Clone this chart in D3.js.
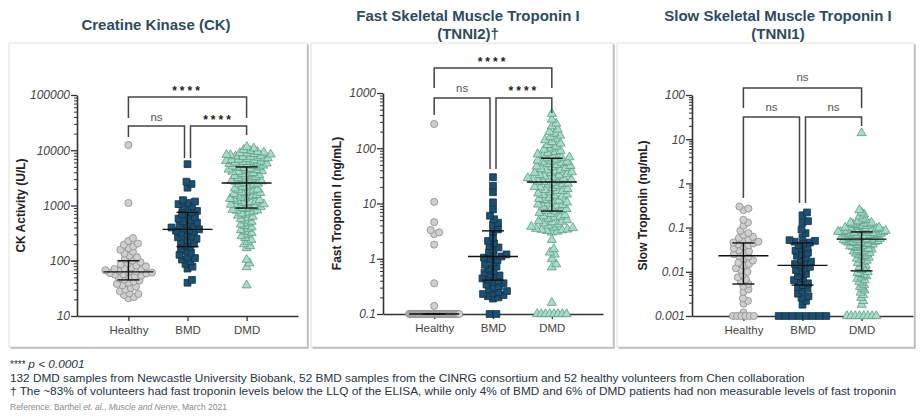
<!DOCTYPE html>
<html>
<head>
<meta charset="utf-8">
<script src="https://cdn.jsdelivr.net/npm/d3@7"></script>
<style>
  body { margin: 0; background: #fff; font-family: Arial, "Liberation Sans", sans-serif; }
</style>
</head>
<body>
<div id="chart"></div>
<script>
// ---- data ----
const groups = ['Healthy', 'BMD', 'DMD'];

// Creatine kinase, U/L
const ckHealthy = [12400, 1110, 257, 228, 205, 195, 182, 170, 158, 146, 135, 124, 116, 108, 101, 95, 90, 86, 82, 79,
  76, 73, 71, 69, 67, 66, 64, 63, 61, 60, 59, 57, 56, 54, 52, 50, 48, 46, 44, 42, 40, 38, 36, 34, 32, 30, 28, 26, 25, 24, 22, 21];
const ckBMD = [5600, 2700, 2450, 2100, 1250, 1180, 1120, 1060, 980, 920, 860, 800, 750, 700, 660, 620, 580, 550, 520, 490,
  460, 440, 420, 400, 385, 370, 360, 350, 335, 320, 300, 280, 265, 250, 235, 220, 205, 190, 178, 165, 152, 140, 128, 118,
  112, 105, 98, 88, 78, 72, 45, 40];
const ckDMD = [11500, 10800, 10200, 9800, 9400, 9100, 8800, 8600, 8400, 8200, 8000, 7800, 7600, 7400, 7200, 7000, 6800,
  6600, 6450, 6300, 6150, 6000, 5850, 5700, 5550, 5400, 5250, 5100, 4950, 4800, 4650, 4500, 4350, 4200, 4050, 3900, 3750,
  3600, 3450, 3300, 3150, 3000, 2900, 2800, 2700, 2600, 2500, 2400, 2300, 2200, 2120, 2040, 1960, 1880, 1800, 1740, 1680,
  1620, 1560, 1500, 1450, 1400, 1350, 1300, 1260, 1220, 1180, 1140, 1100, 1060, 1020, 990, 960, 930, 900, 870, 840, 810,
  780, 750, 720, 690, 660, 630, 600, 570, 540, 510, 480, 455, 430, 405, 380, 360, 340, 320, 300, 280, 260, 240, 220, 200,
  185, 170, 104, 90, 77, 36, 8900, 8300, 7700, 7100, 6700, 6200, 5800, 5300, 4900, 4400, 4100, 3700, 3400, 3100, 2750,
  2450, 1900, 1700, 1520, 1320, 1160, 1040, 940, 820];
const ckStats = [[45, 63, 100], [180, 370, 750], [900, 2550, 5000]]; // q1, median, q3
const ckTicks = [10, 100, 1000, 10000, 100000];
const ckTickLabels = ['10', '100', '1000', '10000', '100000'];
const ckSig = ['****', 'ns', '****'];

// Fast skeletal troponin I, ng/mL (0.1 = below LLQ)
const fastHealthy = [275, 10.7, 4.6, 3.3, 3.0, 2.8, 1.8, 0.36, 0.14, 0.1, 0.1, 0.1, 0.1, 0.1, 0.1, 0.1, 0.1, 0.1, 0.1,
  0.1, 0.1, 0.1, 0.1, 0.1, 0.1, 0.1, 0.1, 0.1, 0.1, 0.1, 0.1, 0.1, 0.1, 0.1, 0.1, 0.1, 0.1, 0.1, 0.1, 0.1, 0.1, 0.1, 0.1,
  0.1, 0.1, 0.1, 0.1, 0.1, 0.1, 0.1, 0.1, 0.1];
const fastBMD = [30, 21, 16, 10.5, 7.8, 6, 5.2, 4.5, 4.2, 3.4, 3.1, 2.4, 2.1, 1.9, 1.7, 1.6, 1.45, 1.3, 1.2, 1.15, 1.1,
  1.05, 1.0, 0.95, 0.85, 0.78, 0.72, 0.66, 0.6, 0.56, 0.52, 0.5, 0.47, 0.44, 0.42, 0.4, 0.38, 0.36, 0.34, 0.32, 0.3, 0.28,
  0.26, 0.25, 0.24, 0.23, 0.22, 0.21, 0.2, 0.19, 0.1, 0.1];
const fastDMD = [420, 330, 280, 250, 220, 200, 185, 170, 160, 150, 140, 130, 122, 115, 108, 100, 95, 90, 86, 82, 78, 75,
  72, 69, 66, 63, 60, 58, 56, 54, 52, 50, 48, 46, 44, 42, 40, 38.5, 37, 35.5, 34, 32.5, 31, 30, 29, 28, 27, 26, 25, 24.5,
  24, 23, 22, 21, 20, 19.2, 18.4, 17.6, 16.8, 16, 15.3, 14.6, 14, 13.4, 12.8, 12.2, 11.6, 11, 10.5, 10, 9.6, 9.2, 8.8,
  8.4, 8, 7.6, 7.2, 6.8, 6.5, 6.2, 5.9, 5.6, 5.3, 5, 4.8, 4.6, 4.4, 4.2, 4, 3.8, 3.6, 3.5, 3.4, 3.3, 3.2, 3.1, 3, 2.2,
  1.5, 1.3, 1.2, 1.0, 0.8, 0.7, 0.16, 0.1, 0.1, 0.1, 0.1, 0.1, 0.1, 0.1, 0.1, 68, 57, 47, 41, 36, 33, 28.5, 26.5, 22.5,
  19.6, 17, 14.3, 11.3, 9.4, 7.4, 5.8, 4.7, 3.7, 3.35];
const fastStats = [[0.1, 0.1, 0.1], [0.41, 1.1, 3.2], [7.3, 24.5, 66]];
const fastTicks = [0.1, 1, 10, 100, 1000];
const fastTickLabels = ['0.1', '1', '10', '100', '1000'];
const fastSig = ['****', 'ns', '****'];

// Slow skeletal troponin I, ng/mL (0.001 = below LLQ)
const slowHealthy = [0.30, 0.27, 0.25, 0.15, 0.13, 0.11, 0.085, 0.075, 0.068, 0.062, 0.058, 0.054, 0.050, 0.048, 0.046,
  0.044, 0.042, 0.040, 0.037, 0.034, 0.031, 0.029, 0.027, 0.025, 0.023, 0.022, 0.020, 0.018, 0.016, 0.015, 0.014, 0.012,
  0.011, 0.010, 0.0085, 0.0075, 0.0068, 0.006, 0.0053, 0.0047, 0.004, 0.0035, 0.0025, 0.0022, 0.0019, 0.0012, 0.001,
  0.001, 0.001, 0.001, 0.001, 0.001];
const slowBMD = [0.22, 0.19, 0.14, 0.13, 0.09, 0.075, 0.06, 0.052, 0.050, 0.048, 0.046, 0.044, 0.040, 0.036, 0.033,
  0.030, 0.027, 0.025, 0.023, 0.021, 0.019, 0.017, 0.016, 0.015, 0.014, 0.013, 0.012, 0.011, 0.010, 0.009, 0.008, 0.0072,
  0.0065, 0.006, 0.0055, 0.005, 0.0045, 0.0042, 0.0038, 0.0032, 0.0028, 0.0026, 0.0022, 0.0018, 0.001, 0.001, 0.001,
  0.001, 0.001, 0.001, 0.001, 0.001];
const slowDMD = [13.8, 0.25, 0.22, 0.2, 0.18, 0.16, 0.15, 0.14, 0.13, 0.125, 0.12, 0.115, 0.11, 0.105, 0.1, 0.097, 0.094,
  0.091, 0.088, 0.085, 0.083, 0.081, 0.079, 0.077, 0.075, 0.073, 0.071, 0.069, 0.067, 0.065, 0.063, 0.061, 0.059, 0.057,
  0.055, 0.054, 0.053, 0.052, 0.051, 0.050, 0.049, 0.048, 0.047, 0.046, 0.045, 0.044, 0.043, 0.042, 0.041, 0.040, 0.039,
  0.038, 0.037, 0.036, 0.035, 0.034, 0.033, 0.032, 0.031, 0.030, 0.029, 0.028, 0.027, 0.026, 0.025, 0.024, 0.023, 0.022,
  0.021, 0.020, 0.019, 0.018, 0.017, 0.016, 0.015, 0.014, 0.013, 0.012, 0.011, 0.010, 0.0095, 0.009, 0.0085, 0.008,
  0.0075, 0.007, 0.0065, 0.006, 0.0055, 0.005, 0.0046, 0.0042, 0.0038, 0.0034, 0.003, 0.0026, 0.0022, 0.0018, 0.001,
  0.001, 0.001, 0.001, 0.001, 0.001, 0.001, 0.001, 0.14, 0.13, 0.12, 0.11, 0.1, 0.1, 0.095, 0.09, 0.09, 0.085, 0.085,
  0.08, 0.08, 0.078, 0.076, 0.074, 0.072, 0.07, 0.068, 0.066, 0.064, 0.06, 0.058, 0.056, 0.053, 0.048];
const slowStats = [[0.0053, 0.023, 0.045], [0.005, 0.014, 0.045], [0.0105, 0.055, 0.08]];
const slowTicks = [0.001, 0.01, 0.1, 1, 10, 100];
const slowTickLabels = ['0.001', '0.01', '0.1', '1', '10', '100'];
const slowSig = ['ns', 'ns', 'ns'];

const comparisons = [['Healthy', 'DMD'], ['Healthy', 'BMD'], ['BMD', 'DMD']];

const footnotes = [
  '132 DMD samples from Newcastle University Biobank, 52 BMD samples from the CINRG consortium and 52 healthy volunteers from Chen collaboration',
  '\u2020 The ~83% of volunteers had fast troponin levels below the LLQ of the ELISA, while only 4% of BMD and 6% of DMD patients had non measurable levels of fast troponin'
];

// ---- layout ----
const W = 920, H = 419;
const titleColor = '#2f4b5c';
const axisColor = '#333';
const font = 'Arial, "Liberation Sans", sans-serif';

const panels = [
  { title: ['Creatine Kinase (CK)'], yTitle: 'CK Activity (U/L)',
    data: [ckHealthy, ckBMD, ckDMD], stats: ckStats, ticks: ckTicks, tickLabels: ckTickLabels, sig: ckSig,
    card: [9, 43, 298, 304], left: 77, right: 298, top: 95, bottom: 316,
    titleX: 156, titleY: [30], yTitleX: 21,
    brackets: [{ y: 97, drops: [118, 118], cy: 88 }, { y: 126, drops: [137, 158], cy: 117 }, { y: 126, drops: [158, 135], cy: 117 }] },
  { title: ['Fast Skeletal Muscle Troponin I', '(TNNI2)\u2020'], yTitle: 'Fast Troponin I (ng/mL)',
    data: [fastHealthy, fastBMD, fastDMD], stats: fastStats, ticks: fastTicks, tickLabels: fastTickLabels, sig: fastSig,
    card: [311, 43, 302, 304], left: 383, right: 603, top: 93, bottom: 314,
    titleX: 468, titleY: [21, 39], yTitleX: 337,
    brackets: [{ y: 68, drops: [88, 88], cy: 59 }, { y: 98, drops: [115, 169], cy: 88 }, { y: 98, drops: [169, 113], cy: 88 }] },
  { title: ['Slow Skeletal Muscle Troponin I', '(TNNI1)'], yTitle: 'Slow Troponin (ng/mL)',
    data: [slowHealthy, slowBMD, slowDMD], stats: slowStats, ticks: slowTicks, tickLabels: slowTickLabels, sig: slowSig,
    card: [617, 43, 297, 304], left: 692, right: 913, top: 95, bottom: 316,
    titleX: 778, titleY: [21, 39], yTitleX: 643,
    brackets: [{ y: 88, drops: [108, 108], cy: 77 }, { y: 117, drops: [198, 203], cy: 107 }, { y: 117, drops: [203, 126], cy: 107 }] }
];

// floorGap: spacing of the below-LLQ row
const markers = [
  { type: d3.symbolCircle, size: 40, fill: '#cfcfcf', stroke: '#8a8a8a', floorGap: 4.2 },
  { type: d3.symbolSquare, size: 46, fill: '#1e4f6f', stroke: '#0e3249', floorGap: 6.8 },
  { type: d3.symbolTriangle, size: 36, fill: '#a8dcc7', stroke: '#5a9c86', floorGap: 4.2 }
];

const svg = d3.select('#chart').append('svg')
  .attr('width', W).attr('height', H)
  .style('font-family', font);

// simple beeswarm: spread points sideways, squeeze into maxHalf, floor values in one squeezed row
function swarm(values, y, floorVal, diam, maxHalf, floorGap, floorW) {
  const pts = values.map(v => ({ v, y: y(Math.max(v, floorVal)) }));
  const low = pts.filter(p => p.v <= floorVal);
  const rest = pts.filter(p => p.v > floorVal).sort((a, b) => b.y - a.y);
  const placed = [];
  rest.forEach(p => {
    let off = 0;
    for (let k = 0; k < 600; k++) {
      const o = (k % 2 ? 1 : -1) * Math.ceil(k / 2) * 0.5;
      if (placed.every(q => (q.x - o) ** 2 + (q.y - p.y) ** 2 >= diam * diam)) { off = o; break; }
    }
    p.x = off;
    placed.push(p);
  });
  const widest = d3.max(rest, p => Math.abs(p.x)) || 1;
  const k = Math.min(1, maxHalf / widest);
  rest.forEach(p => { p.x *= k; });
  const n = low.length;
  const w = Math.min((n - 1) * floorGap, floorW);
  low.forEach((p, i) => { p.x = n > 1 ? -w / 2 + i * w / (n - 1) : 0; });
  return rest.concat(low);
}

panels.forEach(p => {
  // card with shadow
  const [cx, cy, cw, ch] = p.card;
  svg.append('rect').attr('x', cx + 1.5).attr('y', cy + 1.5).attr('width', cw).attr('height', ch)
    .attr('fill', '#9a9a9a');
  svg.append('rect').attr('x', cx).attr('y', cy).attr('width', cw).attr('height', ch)
    .attr('fill', '#fff').attr('stroke', '#e2e2e2').attr('stroke-width', 1);

  // title
  p.title.forEach((t, i) => {
    svg.append('text').attr('x', p.titleX).attr('y', p.titleY[i])
      .attr('text-anchor', 'middle').attr('font-size', 15).attr('font-weight', 'bold')
      .attr('fill', titleColor).text(t);
  });

  const x = d3.scalePoint().domain(groups).range([p.left, p.right]).padding(0.87);
  const y = d3.scaleLog().domain([p.ticks[0], p.ticks[p.ticks.length - 1]]).range([p.bottom, p.top]);

  const g = svg.append('g');

  // minor ticks
  const minor = [];
  for (let i = 0; i < p.ticks.length - 1; i++) for (let m = 2; m <= 9; m++) minor.push(p.ticks[i] * m);
  g.append('g').attr('transform', `translate(${p.left},0)`)
    .call(d3.axisLeft(y).tickValues(minor).tickSize(3).tickFormat('').tickSizeOuter(0))
    .call(a => a.select('.domain').remove())
    .call(a => a.selectAll('line').attr('stroke', axisColor).attr('stroke-width', 1));

  // y axis
  g.append('g').attr('transform', `translate(${p.left},0)`)
    .call(d3.axisLeft(y).tickValues(p.ticks).tickSize(6).tickPadding(1).tickSizeOuter(0)
      .tickFormat((d, i) => p.tickLabels[i]))
    .call(a => a.select('.domain').attr('stroke', axisColor).attr('stroke-width', 1.6))
    .call(a => a.selectAll('line').attr('stroke', axisColor).attr('stroke-width', 1.3))
    .call(a => a.selectAll('text').attr('font-size', 12).attr('font-style', 'italic').attr('fill', '#444')
      .style('font-family', font));

  // x axis
  g.append('g').attr('transform', `translate(0,${p.bottom})`)
    .call(d3.axisBottom(x).tickSize(5).tickPadding(5).tickSizeOuter(0))
    .call(a => a.select('.domain').attr('stroke', axisColor).attr('stroke-width', 1.6))
    .call(a => a.selectAll('line').attr('stroke', axisColor).attr('stroke-width', 1.3))
    .call(a => a.selectAll('text').attr('font-size', 11.5).attr('fill', '#444')
      .style('font-family', font));

  // y title
  svg.append('text')
    .attr('transform', `translate(${p.yTitleX},${(p.top + p.bottom) / 2}) rotate(-90)`)
    .attr('text-anchor', 'middle').attr('dy', '0.35em')
    .attr('font-size', 12).attr('font-weight', 'bold').attr('fill', '#222').text(p.yTitle);

  // points
  groups.forEach((grp, gi) => {
    const mk = markers[gi];
    const pts = swarm(p.data[gi], y, p.ticks[0], 5.2, 24, mk.floorGap, 50);
    g.append('g').selectAll('path').data(pts).enter().append('path')
      .attr('d', d3.symbol().type(mk.type).size(mk.size))
      .attr('transform', d => `translate(${x(grp) + d.x},${d.y})`)
      .attr('fill', mk.fill).attr('stroke', mk.stroke).attr('stroke-width', 0.8);
  });

  // median + interquartile range
  groups.forEach((grp, gi) => {
    const [q1, med, q3] = p.stats[gi];
    const cxg = x(grp);
    const s = g.append('g').attr('stroke', '#111').attr('stroke-width', 1.4);
    s.append('line').attr('x1', cxg - 25).attr('x2', cxg + 25).attr('y1', y(med)).attr('y2', y(med));
    s.append('line').attr('x1', cxg - 11).attr('x2', cxg + 11).attr('y1', y(q1)).attr('y2', y(q1));
    s.append('line').attr('x1', cxg - 11).attr('x2', cxg + 11).attr('y1', y(q3)).attr('y2', y(q3));
    s.append('line').attr('x1', cxg).attr('x2', cxg).attr('y1', y(q1)).attr('y2', y(q3));
  });

  // significance brackets
  comparisons.forEach((c, ci) => {
    const b = p.brackets[ci];
    const x1 = x(c[0]) + (ci === 2 ? 3 : 0);
    const x2 = x(c[1]) - (ci === 1 ? 3 : 0);
    g.append('path')
      .attr('d', `M${x1},${b.drops[0]}V${b.y}H${x2}V${b.drops[1]}`)
      .attr('fill', 'none').attr('stroke', '#444').attr('stroke-width', 1.5);
    const lab = p.sig[ci];
    const stars = lab !== 'ns';
    g.append('text').attr('x', (x1 + x2) / 2).attr('y', b.cy + (stars ? 7 : 4))
      .attr('text-anchor', 'middle')
      .attr('font-size', stars ? 12 : 11.5).attr('font-weight', stars ? 'bold' : 'normal')
      .attr('letter-spacing', stars ? 3 : 0).attr('fill', stars ? '#222' : '#555')
      .text(lab);
  });
});

// footer
const foot = svg.append('g').attr('fill', '#26323e').attr('font-size', 11.8);
const l0 = foot.append('text').attr('x', 10).attr('y', 368);
l0.append('tspan').attr('font-size', 10).text('**** ');
l0.append('tspan').attr('font-style', 'italic').text('p < 0.0001');
footnotes.forEach((t, i) => {
  foot.append('text').attr('x', 10).attr('y', 382 + i * 13).text(t);
});
const ref = svg.append('text').attr('x', 10).attr('y', 410).attr('font-size', 8.5).attr('fill', '#8a8a8a');
ref.append('tspan').text('Reference: Barthel ');
ref.append('tspan').attr('font-style', 'italic').text('et. al.');
ref.append('tspan').text(', ');
ref.append('tspan').attr('font-style', 'italic').text('Muscle and Nerve');
ref.append('tspan').text(', March 2021');
</script>
</body>
</html>
